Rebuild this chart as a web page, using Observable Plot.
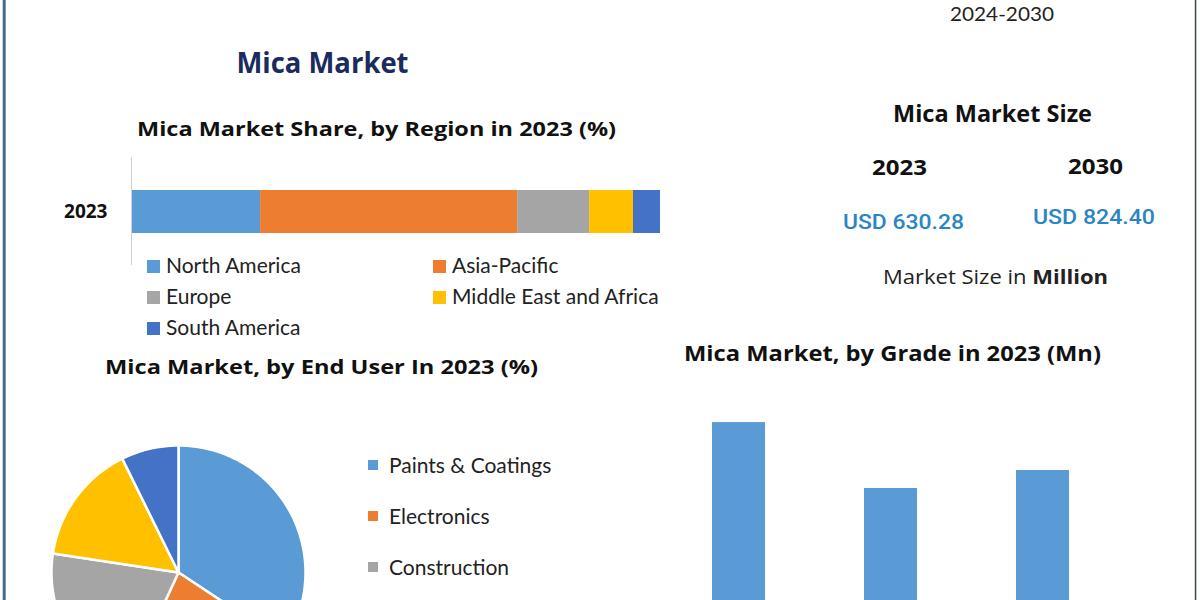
<!DOCTYPE html>
<html><head><meta charset="utf-8">
<script src="https://cdn.jsdelivr.net/npm/d3@7"></script>
<script src="https://cdn.jsdelivr.net/npm/@observablehq/plot@0.6"></script>
<style>
html,body{margin:0;padding:0;overflow:hidden;background:#fff;}
#root{position:relative;width:1200px;height:600px;overflow:hidden;background:#fff;}
</style></head><body><div id="root"></div>
<script>
// ---------- data ----------
const forecastLabel = "2024-2030";
const mainTitle = "Mica Market";
const regionTitle = "Mica Market Share, by Region in 2023 (%)";
const regionYear = ["2023"];
const regions = ["North America", "Asia-Pacific", "Europe", "Middle East and Africa", "South America"];
const regionShare = [24.4, 48.6, 13.6, 8.3, 5.1];
const endUserTitle = "Mica Market, by End User In 2023 (%)";
const endUsers = ["Paints & Coatings", "Electronics", "Construction", "Cosmetics", "Others"];
const endUserShare = [34.3, 22.6, 20.5, 15.3, 7.3];
const gradeTitle = "Mica Market, by Grade in 2023 (Mn)";
const grades = ["Ground Mica", "Sheet Mica", "Flake Mica"];
const gradeValues = [256.6, 182.4, 202.6];
const sizeTitle = "Mica Market Size";
const sizeYears = ["2023", "2030"];
const sizeValues = ["USD 630.28", "USD 824.40"];
const palette = ["#5B9BD5", "#ED7D31", "#A5A5A5", "#FFC000", "#4472C4"];

const root = document.getElementById("root");
function place(el, left, top, z) {
  el.style.position = "absolute"; el.style.left = left + "px"; el.style.top = top + "px";
  el.style.zIndex = z || 1; root.appendChild(el);
}

// ---------- region stacked bar ----------
const regionData = regions.map((r, i) => ({year: regionYear[0], region: r, share: regionShare[i]}));
const barPlot = Plot.plot({
  width: 700, height: 120, marginLeft: 131, marginRight: 40, marginTop: 7, marginBottom: 5,
  style: {fontFamily: "'Open Sans', sans-serif", background: "transparent", overflow: "visible"},
  x: {domain: [0, 100], axis: null},
  y: {domain: regionYear, padding: 0.43, axis: null},
  color: {domain: regions, range: palette},
  marks: [
    Plot.barX(regionData, {x: "share", y: "year", fill: "region"}),
    Plot.ruleX([0], {stroke: "#d0d0d0", strokeWidth: 1}),
    Plot.axisY({tickSize: 0, tickPadding: 24, fontSize: 19, fontWeight: "bold", fill: "#111", label: null})
  ]
});
place(barPlot, 0, 150);

// ---------- pie ----------
const pieArcs = d3.pie().sort(null).value(d => d)(endUserShare);
const piePts = [];
pieArcs.forEach((a, i) => {
  const name = endUsers[i];
  piePts.push({name, x: 0, y: 0});
  const n = Math.max(2, Math.ceil((a.endAngle - a.startAngle) / (Math.PI / 180)));
  for (let k = 0; k <= n; k++) {
    const t = a.startAngle + (a.endAngle - a.startAngle) * k / n;
    piePts.push({name, x: Math.sin(t), y: Math.cos(t)});
  }
});
const piePlot = Plot.plot({
  width: 260, height: 260, margin: 3,
  style: {background: "transparent", overflow: "visible"},
  x: {domain: [-1, 1], axis: null},
  y: {domain: [-1, 1], axis: null},
  color: {domain: endUsers, range: palette},
  marks: [
    Plot.line(piePts, {x: "x", y: "y", z: "name", fill: "name", stroke: "white", strokeWidth: 2.5, curve: "linear-closed", strokeLinejoin: "round"})
  ]
});
place(piePlot, 48, 442);

// ---------- grade bars ----------
const gradeData = grades.map((g, i) => ({grade: g, value: gradeValues[i]}));
const gradePlot = Plot.plot({
  width: 600, height: 310, marginLeft: 13.5, marginRight: 31.5, marginTop: 3.5, marginBottom: 40,
  style: {fontFamily: "Lato, sans-serif", fontSize: "16px", background: "transparent"},
  x: {domain: grades, padding: 0.651, axis: null},
  y: {domain: [0, 300], axis: null},
  marks: [
    Plot.barY(gradeData, {x: "grade", y: "value", fill: palette[0]})
  ]
});
place(gradePlot, 600, 380);

// ---------- overlay text ----------
const NS = "http://www.w3.org/2000/svg";
const svg = document.createElementNS(NS, "svg");
svg.setAttribute("width", 1200); svg.setAttribute("height", 600);
svg.style.pointerEvents = "none";
place(svg, 0, 0, 5);
function el(tag, attrs, parent) {
  const e = document.createElementNS(NS, tag);
  for (const k in attrs) e.setAttribute(k, attrs[k]);
  (parent || svg).appendChild(e); return e;
}
function txt(str, x, y, o) {
  const t = el("text", Object.assign({x, y, "text-anchor": o.anchor || "middle",
    "font-family": o.font || "'Open Sans', sans-serif", "font-size": o.size, "font-weight": o.weight || "normal",
    fill: o.fill || "#111"}, o.len ? {textLength: o.len, lengthAdjust: "spacingAndGlyphs"} : {}));
  t.textContent = str; return t;
}
// borders
el("rect", {x: 2.7, y: 0, width: 3, height: 600, fill: "#3f6f86"});
el("rect", {x: 1194.8, y: 0, width: 1.5, height: 600, fill: "#3a4a54"});

txt(forecastLabel, 1002, 21, {size: 19, font: "Lato, sans-serif", fill: "#222", len: 104});
txt(mainTitle, 322.5, 73.3, {size: 28, weight: "bold", fill: "#1b2b5e", len: 172});
txt(regionTitle, 376.5, 135.5, {size: 20, weight: "bold", len: 479});
txt(sizeTitle, 992.5, 121.7, {size: 23, weight: "bold", len: 199});
txt(sizeYears[0], 899.5, 175, {size: 22, weight: "bold", len: 55});
txt(sizeYears[1], 1095.5, 174.3, {size: 22, weight: "bold", len: 55});
txt(sizeValues[0], 903.5, 229, {size: 21, weight: 500, font: "Roboto, sans-serif", fill: "#2a85c4", len: 121});
txt(sizeValues[1], 1094, 224.3, {size: 21, weight: 500, font: "Roboto, sans-serif", fill: "#2a85c4", len: 122});
const ms = txt("", 995.5, 284, {size: 20, fill: "#222", len: 225});
el("tspan", {}, ms).textContent = "Market Size in ";
const msb = el("tspan", {"font-weight": "bold"}, ms); msb.textContent = "Million";
txt(endUserTitle, 321.5, 373.5, {size: 20, weight: "bold", len: 433});
txt(gradeTitle, 892.5, 361, {size: 21, weight: "bold", len: 417});

// region legend (2 columns)
regions.forEach((r, i) => {
  const col = i % 2, row = Math.floor(i / 2);
  const x = col === 0 ? 147 : 433, base = 273 + row * 31;
  el("rect", {x, y: base - 13, width: 13, height: 13, fill: palette[i]});
  txt(r, x + 19, base, {size: 21, anchor: "start", font: "Lato, sans-serif", fill: "#222"});
});
// end user legend (entries below the visible frame are not drawn)
endUsers.forEach((u, i) => {
  const base = 473 + i * 51;
  if (base > 590) return;
  el("rect", {x: 368, y: base - 13, width: 10, height: 10, fill: palette[i]});
  txt(u, 389, base, {size: 21, anchor: "start", font: "Lato, sans-serif", fill: "#222"});
});
</script></body></html>
